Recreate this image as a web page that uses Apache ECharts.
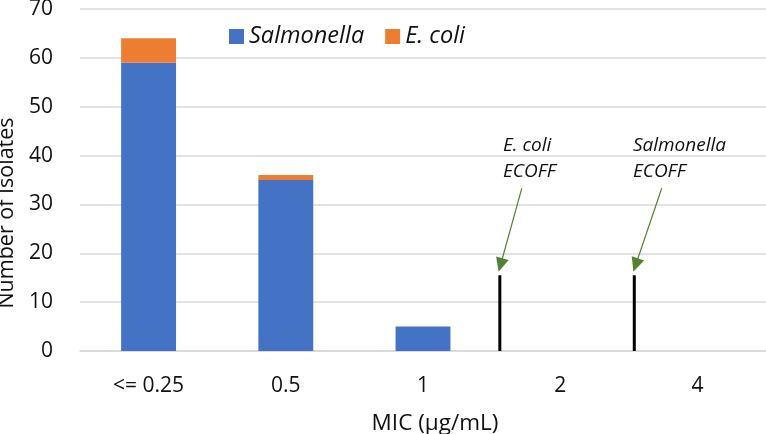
<!DOCTYPE html>
<html>
<head>
<meta charset="utf-8">
<script src="https://cdn.jsdelivr.net/npm/echarts@6/dist/echarts.min.js"></script>
<style>html,body{margin:0;padding:0;background:#fff}#c{width:766px;height:434px}</style>
</head>
<body>
<div id="c"></div>
<script>
const categories = ['<= 0.25', '0.5', '1', '2', '4'];
const salmonella = [59, 35, 5, 0, 0];
const ecoli = [5, 1, 0, 0, 0];
const yTicks = [0, 10, 20, 30, 40, 50, 60, 70];
// ECOFF markers: position on category scale (index units) and height
const ecoliEcoff = [[2.56, 0], [2.56, 15.5]];
const salmEcoff = [[3.54, 0], [3.54, 15.5]];
// arrows: start -> tip (index units, value units)
const ecoliArrow = [[2.72, 33.3], [2.565, 17.6]];
const salmArrow = [[3.74, 33.3], [3.55, 17.6]];
// annotation text anchors
const annotations = [
  { pos: [2.583, 39.3], text: 'E. coli\nECOFF' },
  { pos: [3.53, 39.3], text: 'Salmonella\nECOFF' }
];

const FONT = 'Open Sans';
const TXT = '#111';
const chart = echarts.init(document.getElementById('c'));
chart.setOption({
  animation: false,
  textStyle: { fontFamily: FONT },
  grid: { left: 80, right: 0, top: 9, bottom: 83, containLabel: false, outerBoundsMode: 'none' },
  legend: {
    left: 224, top: 20, itemWidth: 15, itemHeight: 15, itemGap: 21,
    icon: 'rect',
    textStyle: { fontFamily: FONT, fontSize: 23.5, fontStyle: 'italic', color: TXT },
    data: ['Salmonella', 'E. coli']
  },
  xAxis: [{
    type: 'category', data: categories,
    axisLine: { lineStyle: { color: '#d9d9d9', width: 1.5 } },
    axisTick: { show: false },
    axisLabel: { fontFamily: FONT, fontSize: 21, color: TXT, margin: 25 },
    name: 'MIC (µg/mL)', nameLocation: 'middle', nameGap: 61,
    nameTextStyle: { fontFamily: FONT, fontSize: 22.5, color: TXT, padding: [0, 0, 0, 24] }
  }, {
    type: 'value', min: -0.5, max: 4.5, show: false
  }],
  yAxis: {
    type: 'value', min: 0, max: 70, interval: 10,
    axisLine: { show: false }, axisTick: { show: false },
    splitLine: { lineStyle: { color: '#d9d9d9', width: 1.5 } },
    axisLabel: { fontFamily: FONT, fontSize: 21, color: TXT, margin: 27,
      formatter: v => yTicks.includes(v) ? String(v) : '' },
    name: 'Number of Isolates', nameLocation: 'middle', nameGap: 56,
    nameTextStyle: { fontFamily: FONT, fontSize: 21.5, color: TXT, padding: [0, 66, 0, 0] }
  },
  series: [
    { name: 'Salmonella', type: 'bar', stack: 'a', data: salmonella, barWidth: '40%',
      itemStyle: { color: '#4472C4' } },
    { name: 'E. coli', type: 'bar', stack: 'a', data: ecoli, barWidth: '40%',
      itemStyle: { color: '#ED7D31' } },
    { type: 'line', xAxisIndex: 1, data: ecoliEcoff, symbol: 'none',
      lineStyle: { color: '#000', width: 3 } },
    { type: 'line', xAxisIndex: 1, data: salmEcoff, symbol: 'none',
      lineStyle: { color: '#000', width: 3 } },
    { type: 'scatter', xAxisIndex: 1, symbolSize: 0, silent: true,
      itemStyle: { color: TXT, opacity: 1 },
      data: annotations.map(a => ({ value: a.pos, label: { formatter: a.text } })),
      label: { show: true, position: 'right', distance: 0, align: 'left', opacity: 1,
        fontFamily: FONT, fontSize: 19, fontStyle: 'italic', color: TXT, lineHeight: 26 },
      markLine: {
        silent: true, symbol: ['none', 'triangle'], symbolSize: [13, 14],
        label: { show: false },
        lineStyle: { color: '#548235', width: 1.2, type: 'solid', opacity: 1 },
        data: [
          [{ coord: ecoliArrow[0] }, { coord: ecoliArrow[1] }],
          [{ coord: salmArrow[0] }, { coord: salmArrow[1] }]
        ]
      }
    }
  ]
});
</script>
</body>
</html>
